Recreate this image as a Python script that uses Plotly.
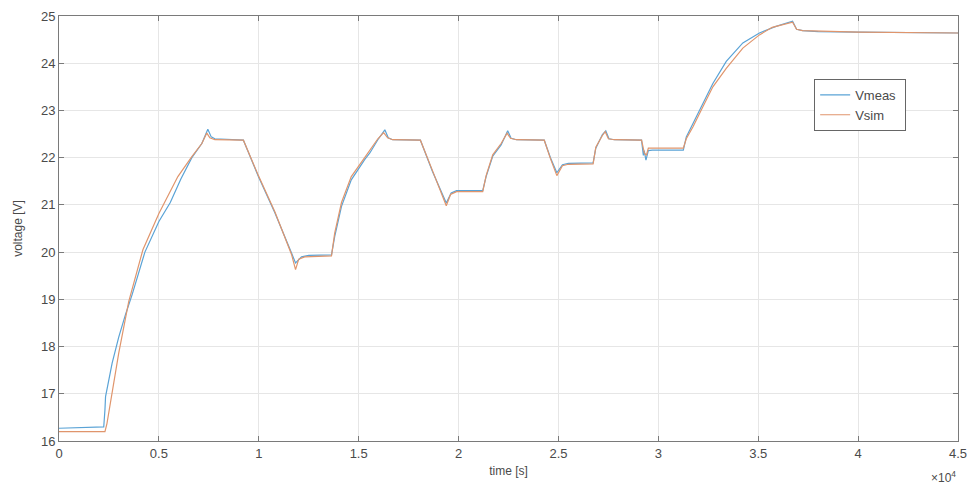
import plotly.graph_objects as go

# time [s] and voltage [V]
t_meas = [0, 2240, 2300, 2330, 2660, 2990, 3330, 3660, 4300, 5000, 5570, 6100, 6650, 7150, 7450, 7620, 7800,
          9230, 9980, 10810, 11640, 11840, 12140, 12500, 13640, 13800, 14140, 14630, 15300, 15560, 15960,
          16310, 16480, 16700, 18090, 18700, 19385, 19630, 19900, 21210, 21380, 21710, 22130, 22460, 22630,
          22900, 24290, 24600, 24920, 25200, 25500, 26735, 26870, 27200, 27370, 27530, 27800, 29160, 29250,
          29290, 29380, 29500, 29700, 31250, 31400, 31730, 32230, 32730, 33400, 34230, 35060, 35890, 36720,
          36920, 37220, 38000, 40000, 45000]
v_meas = [16.27, 16.30, 16.66, 16.94, 17.65, 18.20, 18.68, 19.10, 20.00, 20.65, 21.05, 21.55, 22.00, 22.30, 22.60, 22.44, 22.40,
          22.37, 21.60, 20.83, 19.98, 19.77, 19.90, 19.93, 19.94, 20.33, 20.97, 21.53, 21.96, 22.10, 22.38,
          22.59, 22.42, 22.38, 22.37, 21.70, 21.04, 21.25, 21.30, 21.30, 21.60, 22.03, 22.27, 22.57, 22.41,
          22.38, 22.37, 22.00, 21.68, 21.85, 21.88, 21.89, 22.20, 22.49, 22.57, 22.40, 22.38, 22.37, 22.05,
          22.15, 21.95, 22.15, 22.16, 22.16, 22.44, 22.72, 23.15, 23.57, 24.04, 24.43, 24.64, 24.78, 24.89,
          24.72, 24.69, 24.67, 24.66, 24.64]

t_sim = [0, 2300, 2400, 2660, 2990, 3490, 4200, 5000, 5400, 5950, 6650, 7150, 7400, 7550, 7800,
         9230, 9980, 10810, 11640, 11840, 12000, 12300, 13640, 13800, 14140, 14630, 15300, 15960,
         16250, 16450, 16700, 18090, 18700, 19385, 19600, 19900, 21210, 21380, 21710, 22130, 22430, 22600,
         22900, 24290, 24600, 24920, 25200, 25500, 26735, 26870, 27200, 27340, 27500, 27800, 29160, 29300,
         29400, 29500, 29700, 31250, 31400, 31730, 32230, 32730, 33400, 34230, 35060, 35700, 36720,
         36920, 37220, 40000, 45000]
v_sim = [16.20, 16.20, 16.37, 17.00, 17.86, 18.95, 20.05, 20.82, 21.15, 21.60, 22.02, 22.30, 22.52, 22.42, 22.38,
         22.37, 21.62, 20.85, 19.95, 19.63, 19.85, 19.90, 19.92, 20.40, 21.05, 21.60, 22.00, 22.40,
         22.53, 22.42, 22.38, 22.37, 21.72, 20.98, 21.22, 21.28, 21.28, 21.62, 22.06, 22.30, 22.52, 22.41,
         22.38, 22.37, 21.98, 21.62, 21.83, 21.86, 21.87, 22.22, 22.47, 22.55, 22.40, 22.38, 22.37, 22.10,
         22.05, 22.20, 22.20, 22.20, 22.40, 22.65, 23.08, 23.50, 23.89, 24.32, 24.60, 24.76, 24.87,
         24.72, 24.69, 24.66, 24.64]

x_tickvals = [0, 5000, 10000, 15000, 20000, 25000, 30000, 35000, 40000, 45000]
x_ticktext = ["0", "0.5", "1", "1.5", "2", "2.5", "3", "3.5", "4", "4.5"]
y_tickvals = [16, 17, 18, 19, 20, 21, 22, 23, 24, 25]

FONT = "Liberation Sans, Arial, sans-serif"
TXT = "#4a4a4a"
AX = "#7a7a7a"

fig = go.Figure()
fig.add_trace(go.Scatter(x=t_meas, y=v_meas, mode="lines", name="Vmeas\u00a0",
                         line=dict(color="#5aa3d6", width=1.2)))
fig.add_trace(go.Scatter(x=t_sim, y=v_sim, mode="lines", name="Vsim",
                         line=dict(color="#e0956c", width=1.2)))

axis_common = dict(showline=True, linecolor=AX, linewidth=1, mirror="ticks",
                   ticks="inside", ticklen=5, tickcolor=AX, showgrid=True,
                   gridcolor="#e6e6e6", gridwidth=1, zeroline=False, automargin=False,
                   tickfont=dict(family=FONT, size=13, color=TXT))

fig.update_layout(
    width=972, height=485,
    margin=dict(l=59, r=14, t=16, b=44),
    paper_bgcolor="white", plot_bgcolor="white",
    font=dict(family=FONT, size=12, color=TXT),
    xaxis=dict(range=[0, 45000], tickvals=x_tickvals, ticktext=x_ticktext,
               ticklabeloverflow="allow",
               title=dict(text="time [s]", font=dict(family=FONT, size=12, color=TXT), standoff=7),
               **axis_common),
    yaxis=dict(range=[16, 25], tickvals=y_tickvals,
               title=dict(text="voltage [V]", font=dict(family=FONT, size=12, color=TXT), standoff=15),
               **axis_common),
    legend=dict(x=0.84, y=0.852, xanchor="left", yanchor="top",
                bgcolor="white", bordercolor="#666666", borderwidth=1,
                font=dict(family=FONT, size=13, color=TXT),
                tracegroupgap=0, itemwidth=30),
    showlegend=True,
)

fig.add_annotation(xref="paper", yref="paper", x=1.0, y=0, yshift=-46, xanchor="right",
                   yanchor="bottom", showarrow=False,
                   text="×10<sup>4</sup>", font=dict(family=FONT, size=12, color=TXT))

fig.write_html("out.html", config={"displayModeBar": False},
               post_script="document.body.style.margin='0';document.body.style.padding='0';")
